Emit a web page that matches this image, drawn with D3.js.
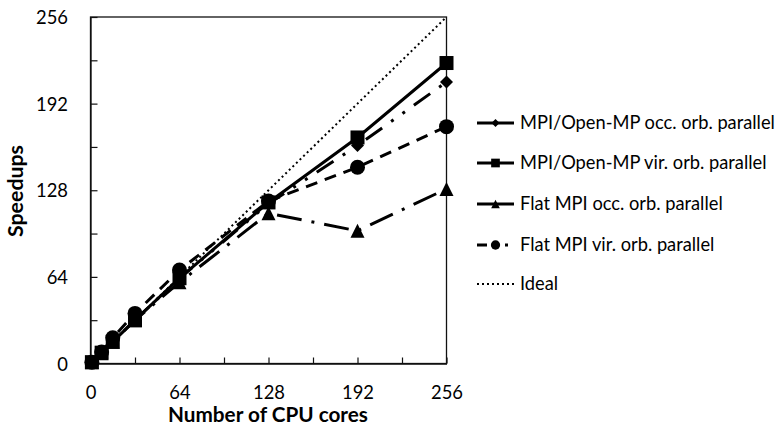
<!DOCTYPE html>
<html>
<head>
<meta charset="utf-8">
<script src="https://cdn.jsdelivr.net/npm/d3@7"></script>
<style>
  html, body { margin: 0; padding: 0; background: #fff; }
  svg { display: block; }
  text { font-family: Lato, "Open Sans", sans-serif; fill: #000; }
</style>
</head>
<body>
<svg id="chart" width="779" height="427"></svg>
<script>
// ---- data ----
const cores = [1, 8, 16, 32, 64, 128, 192, 256];
const mpiOmpOcc = [1, 8, 16, 32, 63, 118, 161, 208];
const mpiOmpVir = [1, 8, 16, 32, 63, 119, 167, 222];
const flatOcc   = [1, 7.5, 16, 32, 60, 111, 98, 129];
const flatVir   = [1, 8.5, 19, 37, 69, 120, 145, 175];
const ideal     = [1, 8, 16, 32, 64, 128, 192, 256];
const seriesNames = [
  "MPI/Open-MP occ. orb. parallel",
  "MPI/Open-MP vir. orb. parallel",
  "Flat MPI occ. orb. parallel",
  "Flat MPI vir. orb. parallel",
  "Ideal"
];
const tickValues = [0, 32, 64, 96, 128, 160, 192, 224, 256];
const tickLabels = ["0", "", "64", "", "128", "", "192", "", "256"];
const xTitle = "Number of CPU cores";
const yTitle = "Speedups";

// ---- layout ----
const svg = d3.select("#chart");
const L = 90.5, R = 446.5, T = 17, B = 363.5;
const x = d3.scaleLinear().domain([0, 256]).range([L, R]);
const y = d3.scaleLinear().domain([0, 256]).range([B, T]);

function fitSize(sel, target, base) {
  sel.style("font-size", base + "px");
  const w = sel.node().getComputedTextLength();
  const s = base * target / w;
  sel.style("font-size", s + "px");
  return s;
}

// frame
svg.append("rect").attr("x", L).attr("y", T).attr("width", R - L).attr("height", B - T)
  .attr("fill", "none").attr("stroke", "#111").attr("stroke-width", 1.3);

// measure tick font size
const probe = svg.append("text").text("256");
const tickFs = fitSize(probe, 32, 20);
probe.remove();

const fmt = (d) => tickLabels[tickValues.indexOf(d)];
const yAxis = svg.append("g").attr("transform", `translate(${L},0)`)
  .call(d3.axisLeft(y).tickValues(tickValues).tickFormat(fmt).tickSizeInner(-7).tickSizeOuter(0).tickPadding(22.5));
const xAxis = svg.append("g").attr("transform", `translate(0,${B})`)
  .call(d3.axisBottom(x).tickValues(tickValues).tickFormat(fmt).tickSizeInner(-6).tickSizeOuter(0).tickPadding(22.5));
[yAxis, xAxis].forEach(g => {
  g.select(".domain").attr("stroke", "#111").attr("stroke-width", 1.3);
  g.selectAll(".tick line").attr("stroke", "#111").attr("stroke-width", 1.2);
  g.selectAll("text").attr("font-family", "Lato, 'Open Sans', sans-serif")
    .style("font-size", tickFs + "px").attr("fill", "#000");
});
yAxis.selectAll("text").attr("dy", "0.36em");

// axis titles
const xt = svg.append("text").text(xTitle).attr("text-anchor", "middle")
  .attr("x", 268).attr("y", 421.5).style("font-weight", "bold");
fitSize(xt, 200, 16);
const yt = svg.append("text").text(yTitle).attr("text-anchor", "middle")
  .attr("transform", "translate(23,191) rotate(-90)").style("font-weight", "bold");
fitSize(yt, 92, 16);

// ---- series ----
const seriesVals = [mpiOmpOcc, mpiOmpVir, flatOcc, flatVir];
const dashes = ["20,11,3,11,3,11", null, "25,10,3,10", "12,8"];
const markers = ["diamond", "square", "triangle", "circle"];

function marker(g, type, cx, cy, s) {
  if (type === "circle") {
    g.append("circle").attr("cx", cx).attr("cy", cy).attr("r", s / 2).attr("fill", "#000");
  } else if (type === "square") {
    g.append("rect").attr("x", cx - s / 2).attr("y", cy - s / 2).attr("width", s).attr("height", s).attr("fill", "#000");
  } else if (type === "diamond") {
    const h = s / 2;
    g.append("path").attr("d", `M${cx},${cy - h}L${cx + h},${cy}L${cx},${cy + h}L${cx - h},${cy}Z`).attr("fill", "#000");
  } else if (type === "triangle") {
    const h = s / 2;
    g.append("path").attr("d", `M${cx},${cy - h}L${cx + h},${cy + h}L${cx - h},${cy + h}Z`).attr("fill", "#000");
  }
}
const markerSize = { circle: 15, square: 14, diamond: 13, triangle: 14 };

const line = d3.line().x((d, i) => x(cores[i])).y(d => y(d));

seriesVals.forEach((vals, si) => {
  const g = svg.append("g");
  g.append("path").datum(vals).attr("d", line).attr("fill", "none")
    .attr("stroke", "#000").attr("stroke-width", 3)
    .attr("stroke-dasharray", dashes[si]);
  vals.forEach((v, i) => marker(g, markers[si], x(cores[i]), y(v), markerSize[markers[si]]));
});
// ideal
svg.append("path").datum(ideal).attr("d", line).attr("fill", "none")
  .attr("stroke", "#000").attr("stroke-width", 2).attr("stroke-dasharray", "2,3");

// ---- legend ----
const legY = [123, 163, 204, 245, 284];
const legX0 = 477, legX1 = 514, legTx = 520;
const lg = svg.append("g");
let legFs = null;
seriesNames.forEach((name, i) => {
  const yy = legY[i];
  const isIdeal = i === 4;
  lg.append("line").attr("x1", legX0).attr("x2", legX1).attr("y1", yy).attr("y2", yy)
    .attr("stroke", "#000").attr("stroke-width", isIdeal ? 2 : 3)
    .attr("stroke-dasharray", isIdeal ? "2,3" : (i === 3 ? "10,18,3,8" : null));
  if (!isIdeal) marker(lg, markers[i], (legX0 + legX1) / 2, yy, markerSize[markers[i]] * 0.62);
  const t = lg.append("text").text(name).attr("x", legTx).attr("y", yy).attr("dy", "0.35em");
  if (i === 0) legFs = fitSize(t, 255, 16);
  else t.style("font-size", legFs + "px");
});
</script>
</body>
</html>
